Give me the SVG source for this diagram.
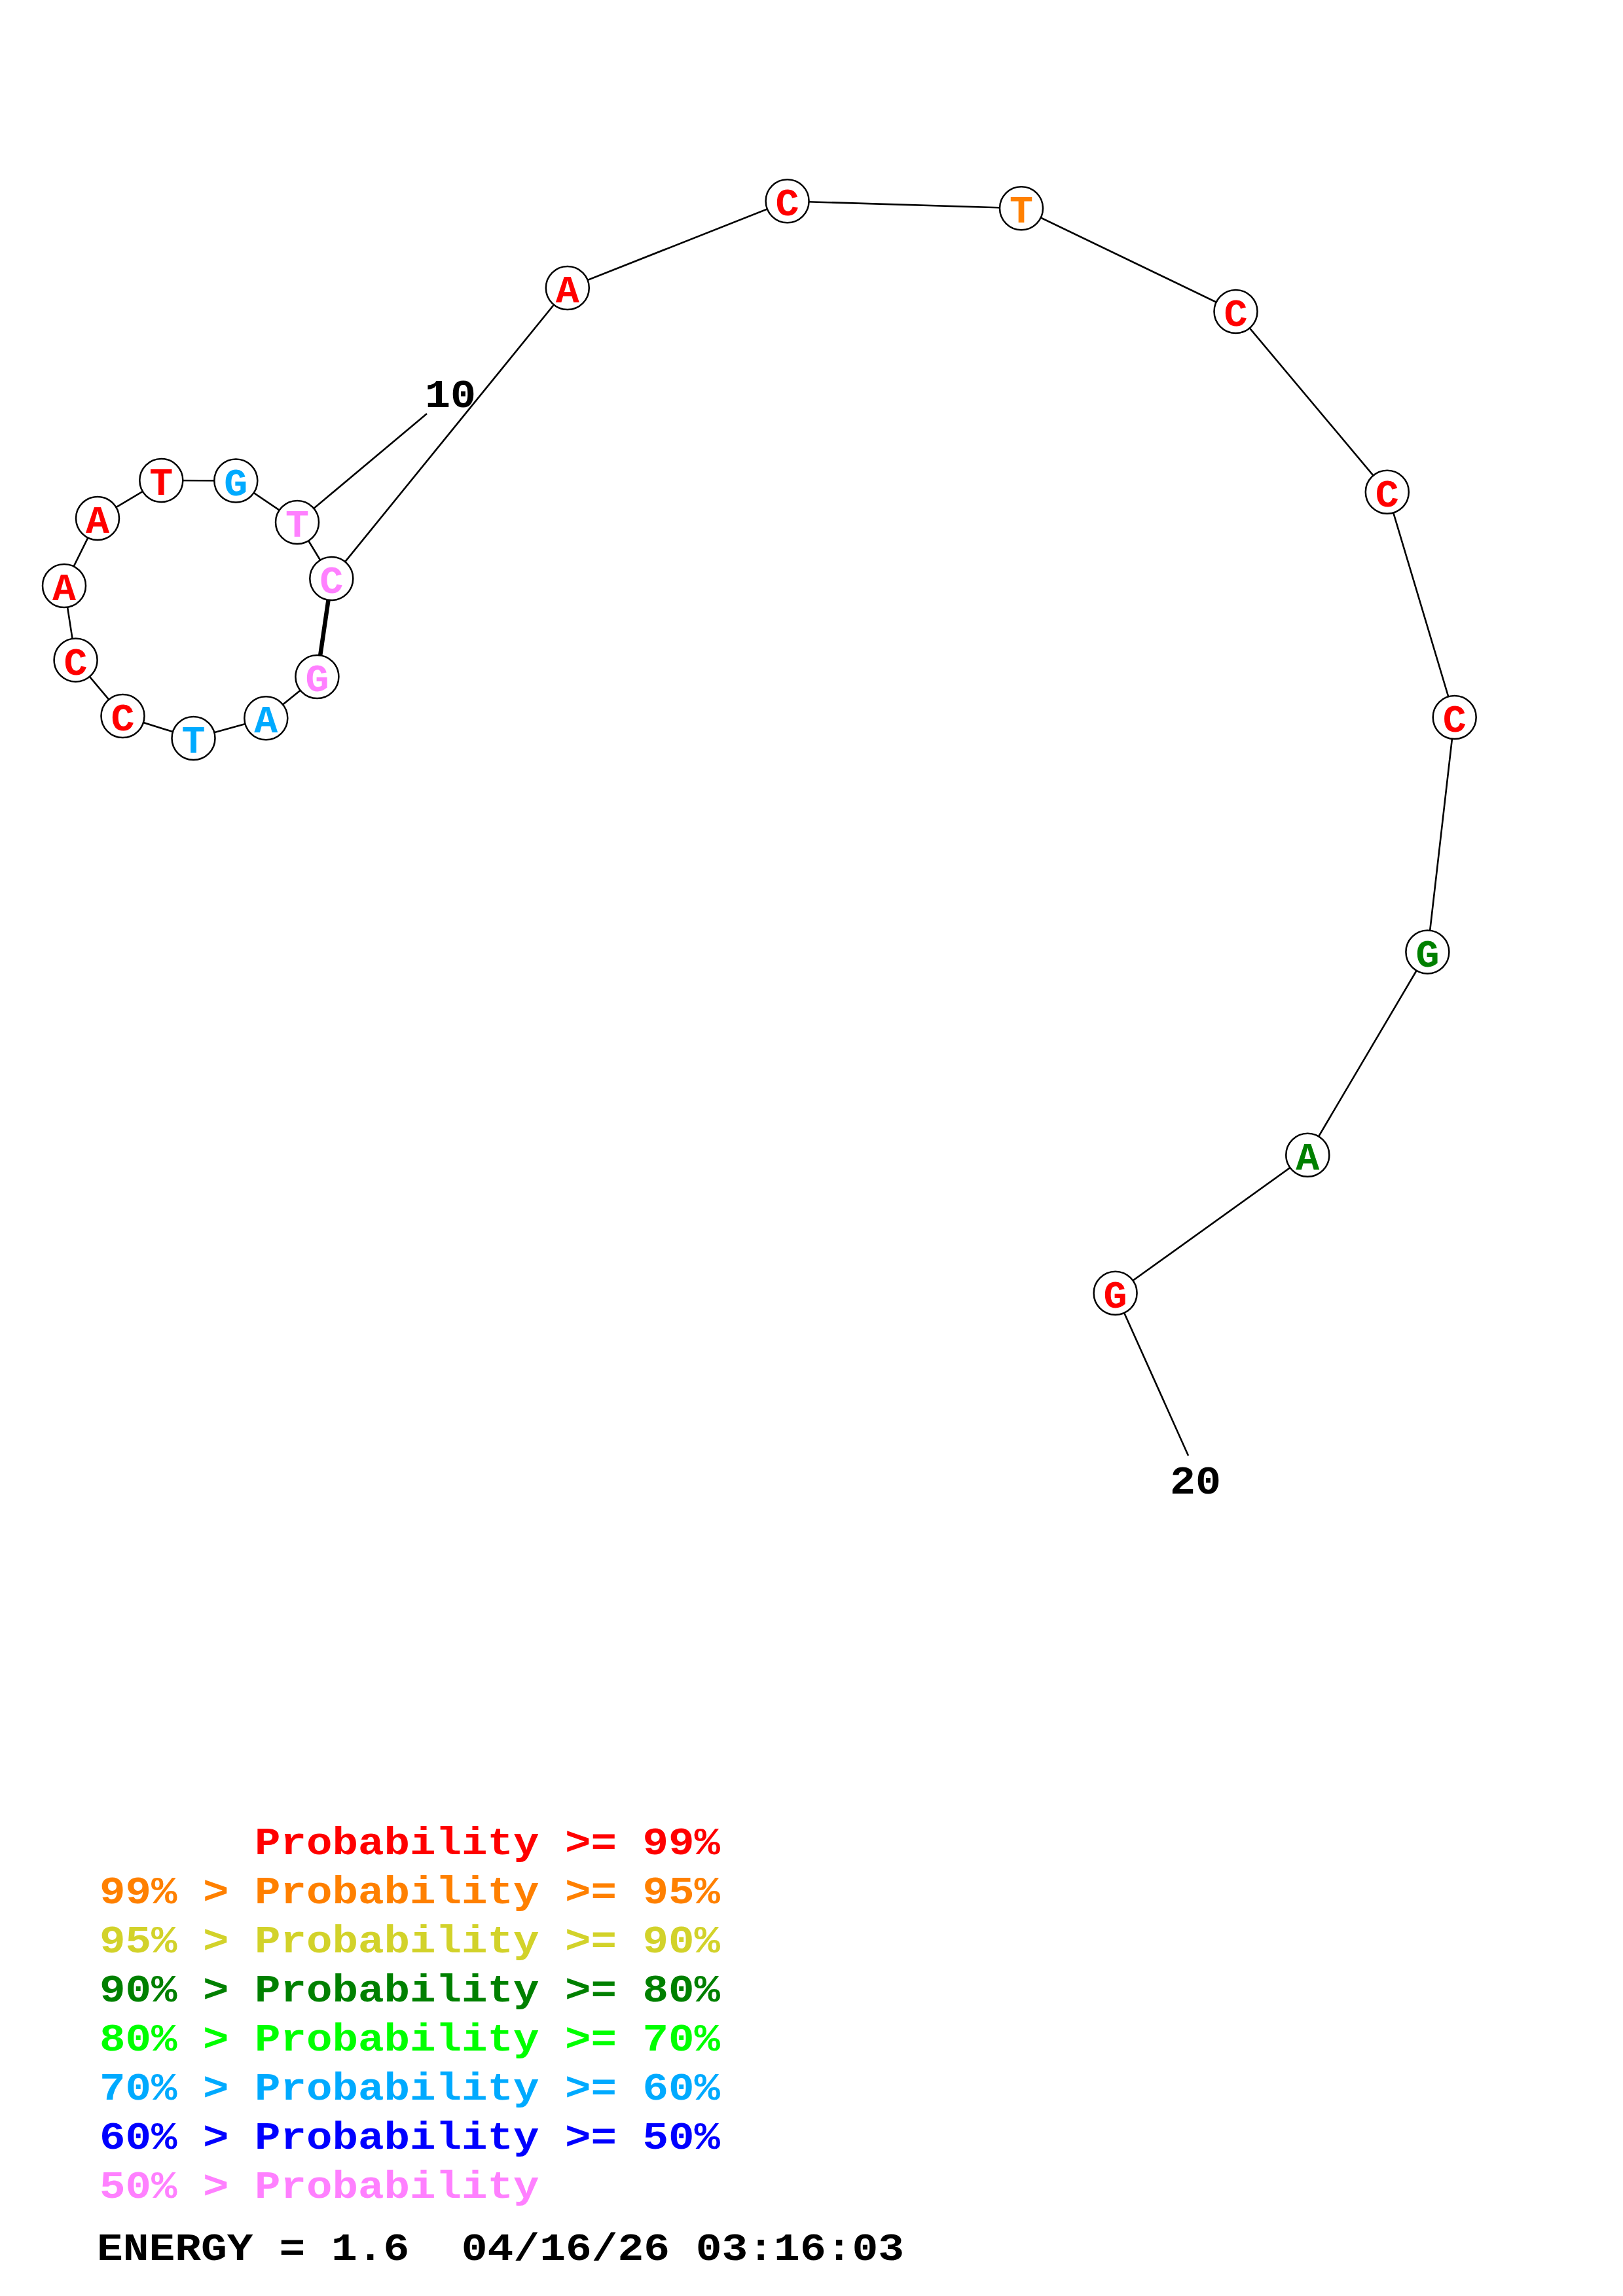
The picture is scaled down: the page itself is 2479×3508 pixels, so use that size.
<svg xmlns="http://www.w3.org/2000/svg" width="2479" height="3508" viewBox="0 0 2479 3508">
<style>
.bg{fill:#ffffff}
.ln{stroke:#000;stroke-width:2.6;fill:none}
.pair{stroke:#000;stroke-width:6.5;fill:none}
.nd circle{fill:#fff;stroke:#000;stroke-width:2.5}
.nd text{font-family:"Liberation Mono","DejaVu Sans Mono",monospace;font-weight:bold;font-size:60px;text-anchor:middle}
.num{font-family:"Liberation Mono","DejaVu Sans Mono",monospace;font-weight:bold;font-size:62px;text-anchor:middle;fill:#000}
.lg{font-family:"Liberation Mono","DejaVu Sans Mono",monospace;font-weight:bold;font-size:60px;white-space:pre}
.red{fill:#ff0000}.org{fill:#ff8000}.yel{fill:#d2d22a}.dgr{fill:#008000}.lgr{fill:#00ff00}.lbl{fill:#00aaff}.blu{fill:#0000ff}.pnk{fill:#ff80ff}.blk{fill:#000}
</style>
<rect class="bg" x="0" y="0" width="2479" height="3508"/>
<g id="connectors">
<line class="pair" x1="484.4" y1="1034" x2="506.3" y2="884"/>
<polyline class="ln" points="484.4,1034 406.3,1097.3 295.5,1128 187.5,1094 115.6,1008.5 98,895 149,792 246.3,734 360.3,734.5 454,798 506.3,884 866.8,440 1202.6,307.3 1560,318.3 1887.5,476 2118.8,751.8 2221.7,1096 2180.4,1454.5 1997.3,1764.8 1703.6,1975.8"/>
<line class="ln" x1="454" y1="798" x2="652" y2="632"/>
<line class="ln" x1="1703.6" y1="1975.8" x2="1815" y2="2224"/>
</g>
<g id="n1" class="nd"><circle cx="484.4" cy="1034" r="33"/><text x="484.4" y="1056" class="pnk">G</text></g>
<g id="n2" class="nd"><circle cx="406.3" cy="1097.3" r="33"/><text x="406.3" y="1119.3" class="lbl">A</text></g>
<g id="n3" class="nd"><circle cx="295.5" cy="1128" r="33"/><text x="295.5" y="1150" class="lbl">T</text></g>
<g id="n4" class="nd"><circle cx="187.5" cy="1094" r="33"/><text x="187.5" y="1116" class="red">C</text></g>
<g id="n5" class="nd"><circle cx="115.6" cy="1008.5" r="33"/><text x="115.6" y="1030.5" class="red">C</text></g>
<g id="n6" class="nd"><circle cx="98" cy="895" r="33"/><text x="98" y="917" class="red">A</text></g>
<g id="n7" class="nd"><circle cx="149" cy="792" r="33"/><text x="149" y="814" class="red">A</text></g>
<g id="n8" class="nd"><circle cx="246.3" cy="734" r="33"/><text x="246.3" y="756" class="red">T</text></g>
<g id="n9" class="nd"><circle cx="360.3" cy="734.5" r="33"/><text x="360.3" y="756.5" class="lbl">G</text></g>
<g id="n10" class="nd"><circle cx="454" cy="798" r="33"/><text x="454" y="820" class="pnk">T</text></g>
<g id="n11" class="nd"><circle cx="506.3" cy="884" r="33"/><text x="506.3" y="906" class="pnk">C</text></g>
<g id="n12" class="nd"><circle cx="866.8" cy="440" r="33"/><text x="866.8" y="462" class="red">A</text></g>
<g id="n13" class="nd"><circle cx="1202.6" cy="307.3" r="33"/><text x="1202.6" y="329.3" class="red">C</text></g>
<g id="n14" class="nd"><circle cx="1560" cy="318.3" r="33"/><text x="1560" y="340.3" class="org">T</text></g>
<g id="n15" class="nd"><circle cx="1887.5" cy="476" r="33"/><text x="1887.5" y="498" class="red">C</text></g>
<g id="n16" class="nd"><circle cx="2118.8" cy="751.8" r="33"/><text x="2118.8" y="773.8" class="red">C</text></g>
<g id="n17" class="nd"><circle cx="2221.7" cy="1096" r="33"/><text x="2221.7" y="1118" class="red">C</text></g>
<g id="n18" class="nd"><circle cx="2180.4" cy="1454.5" r="33"/><text x="2180.4" y="1476.5" class="dgr">G</text></g>
<g id="n19" class="nd"><circle cx="1997.3" cy="1764.8" r="33"/><text x="1997.3" y="1786.8" class="dgr">A</text></g>
<g id="n20" class="nd"><circle cx="1703.6" cy="1975.8" r="33"/><text x="1703.6" y="1997.8" class="red">G</text></g>
<g id="labels">
<text class="num" x="688" y="622" textLength="78" lengthAdjust="spacingAndGlyphs">10</text>
<text class="num" x="1826" y="2282" textLength="78" lengthAdjust="spacingAndGlyphs">20</text>
</g>
<g id="legend">
<text class="lg red" x="389" y="2833" textLength="711" lengthAdjust="spacingAndGlyphs">Probability &gt;= 99%</text>
<text class="lg org" x="152" y="2908" textLength="948" lengthAdjust="spacingAndGlyphs">99% &gt; Probability &gt;= 95%</text>
<text class="lg yel" x="152" y="2983" textLength="948" lengthAdjust="spacingAndGlyphs">95% &gt; Probability &gt;= 90%</text>
<text class="lg dgr" x="152" y="3058" textLength="948" lengthAdjust="spacingAndGlyphs">90% &gt; Probability &gt;= 80%</text>
<text class="lg lgr" x="152" y="3133" textLength="948" lengthAdjust="spacingAndGlyphs">80% &gt; Probability &gt;= 70%</text>
<text class="lg lbl" x="152" y="3208" textLength="948" lengthAdjust="spacingAndGlyphs">70% &gt; Probability &gt;= 60%</text>
<text class="lg blu" x="152" y="3283" textLength="948" lengthAdjust="spacingAndGlyphs">60% &gt; Probability &gt;= 50%</text>
<text class="lg pnk" x="152" y="3358" textLength="671.5" lengthAdjust="spacingAndGlyphs">50% &gt; Probability</text>
<text class="lg blk" x="148" y="3453" textLength="1233" lengthAdjust="spacingAndGlyphs">ENERGY = 1.6&#160; 04/16/26 03:16:03</text>
</g>
</svg>
